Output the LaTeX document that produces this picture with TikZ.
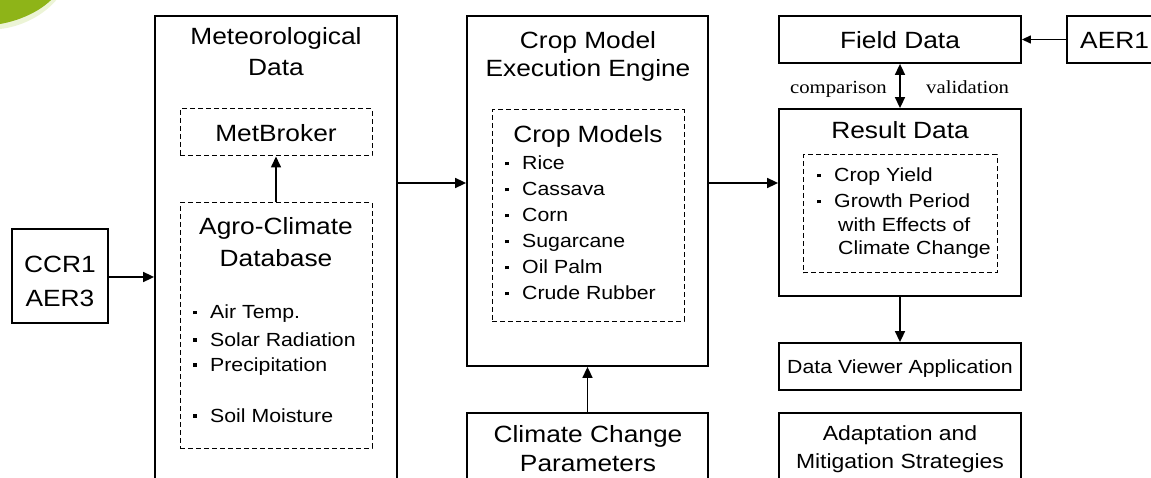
\documentclass[tikz,border=0pt]{standalone}
\usepackage{fontspec}
\setmainfont{Liberation Sans}[FakeStretch=1.12]
\newfontfamily\lblserif{Liberation Serif}[FakeStretch=1.12]
\usetikzlibrary{arrows.meta}
\definecolor{leaf}{RGB}{142,180,24}
\definecolor{leafhalo}{RGB}{236,244,214}
\newcommand{\sqb}{\makebox[17pt][l]{\rule[4.5pt]{3.5pt}{3.5pt}}}
\tikzset{
  box/.style={draw, line width=1.8pt, inner sep=0pt, rectangle},
  dbox/.style={draw, line width=1pt, dash pattern=on 5pt off 3pt, inner sep=0pt, rectangle},
  arr/.style={line width=1.6pt, -{Triangle[length=11pt,width=10pt]}},
  darr/.style={line width=1.6pt, {Triangle[length=11pt,width=10pt]}-{Triangle[length=11pt,width=10pt]}},
  ttl/.style={anchor=base, inner sep=0pt, font=\fontsize{23.5}{28}\selectfont},
  mid/.style={anchor=base, inner sep=0pt, font=\fontsize{20.5}{25}\selectfont},
  sml/.style={anchor=base, inner sep=0pt, font=\fontsize{19}{23}\selectfont},
  itm/.style={anchor=base west, inner sep=0pt, font=\fontsize{19}{23}\selectfont},
  lbl/.style={inner sep=0pt, font=\lblserif\fontsize{18.5}{22}\selectfont}
}
\begin{document}
\begin{tikzpicture}[x=1pt,y=-1pt]
\useasboundingbox (0,0) rectangle (1151,478);
\clip (0,0) rectangle (1151,478);
% green corner shape
\fill[leafhalo] (0,-2) -- (58,-2) .. controls (44,16) and (20,27) .. (0,29) -- cycle;
\fill[leaf] (0,-2) -- (53,-2) .. controls (40,12) and (18,21) .. (0,24) -- cycle;

% boxes
\node[box, minimum width=96pt, minimum height=94pt] (ccr) at (60,276) {};
\node[box, minimum width=242pt, minimum height=484pt] (met) at (276,258) {};
\node[dbox, minimum width=192pt, minimum height=47pt] (broker) at (276,132.5) {};
\node[dbox, minimum width=192pt, minimum height=245pt] (agro) at (276,325.5) {};
\node[box, minimum width=241pt, minimum height=350pt] (crop) at (587.5,191) {};
\node[dbox, minimum width=192pt, minimum height=211pt] (models) at (588,215.5) {};
\node[box, minimum width=241pt, minimum height=87pt] (climate) at (587.5,456.5) {};
\node[box, minimum width=242pt, minimum height=47pt] (field) at (900,39.5) {};
\node[box, minimum width=98pt, minimum height=47pt] (aer) at (1116,39.5) {};
\node[box, minimum width=242pt, minimum height=187pt] (result) at (900,202.5) {};
\node[dbox, minimum width=194pt, minimum height=118pt] (resin) at (900,214) {};
\node[box, minimum width=242pt, minimum height=47pt] (viewer) at (900,366.5) {};
\node[box, minimum width=242pt, minimum height=87pt] (adapt) at (900,456.5) {};

% texts
\node[ttl] (t-ccr1) at (60,273) {CCR1};
\node[ttl] (t-aer3) at (60,306) {AER3};
\node[ttl] (t-met1) at (276,45) {Meteorological};
\node[ttl] (t-met2) at (276,76) {Data};
\node[ttl] (t-broker) at (276,142) {MetBroker};
\node[ttl] (t-agro1) at (276,235) {Agro-Climate};
\node[ttl] (t-agro2) at (276,267) {Database};
\node[itm] (i-air) at (193,319) {\sqb Air Temp.};
\node[itm] (i-sol) at (193,346) {\sqb Solar Radiation};
\node[itm] (i-pre) at (193,371) {\sqb Precipitation};
\node[itm] (i-soi) at (193,422) {\sqb Soil Moisture};
\node[ttl] (t-crop1) at (588,49) {Crop Model};
\node[ttl] (t-crop2) at (588,77) {Execution Engine};
\node[ttl] (t-models) at (588,143) {Crop Models};
\node[itm] (i-rice) at (505,170) {\sqb Rice};
\node[itm] (i-cas) at (505,196) {\sqb Cassava};
\node[itm] (i-corn) at (505,222) {\sqb Corn};
\node[itm] (i-sug) at (505,248) {\sqb Sugarcane};
\node[itm] (i-oil) at (505,274) {\sqb Oil Palm};
\node[itm] (i-rub) at (505,300) {\sqb Crude Rubber};
\node[ttl] (t-cc1) at (588,442) {Climate Change};
\node[ttl] (t-cc2) at (588,471) {Parameters};
\node[ttl] (t-field) at (900,49) {Field Data};
\node[ttl, anchor=base west] (t-aer1) at (1080,49) {AER1};
\node[lbl, anchor=base east] (t-comp) at (887,94) {comparison};
\node[lbl, anchor=base west] (t-val) at (926,94) {validation};
\node[ttl] (t-res) at (900,139) {Result Data};
\node[itm] (i-yield) at (817,182) {\sqb Crop Yield};
\node[itm] (i-grow) at (817,208) {\sqb Growth Period};
\node[itm] (i-with) at (838,232) {with Effects of};
\node[itm] (i-clim) at (838,255) {Climate Change};
\node[sml] (t-view) at (900,373) {Data Viewer Application};
\node[mid] (t-ad1) at (900,440) {Adaptation and};
\node[mid] (t-ad2) at (900,468) {Mitigation Strategies};

% connectors
\coordinate (row) at (0,183);
\coordinate (ccrow) at (0,277);
\draw[arr] (ccr.east |- ccrow) -- (met.west |- ccrow);
\draw[arr] (agro.north) -- (broker.south);
\draw[arr] (met.east |- row) -- (crop.west |- row);
\draw[arr] (crop.east |- row) -- (result.west |- row);
\draw[arr] (climate.north) -- (crop.south);
\draw[line width=1.3pt, -{Triangle[length=9pt,width=8pt]}] (aer.west) -- (field.east);
\draw[darr] (field.south) -- (result.north);
\draw[arr] (result.south) -- (viewer.north);
\end{tikzpicture}
\end{document}
